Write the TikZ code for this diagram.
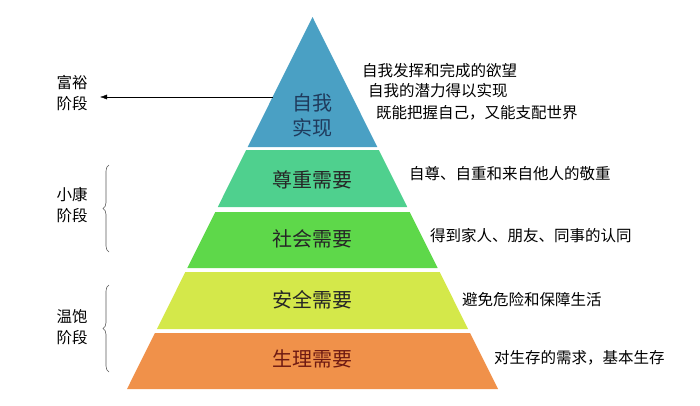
\documentclass[tikz,border=0pt]{standalone}
\usepackage{fontspec}
\setmainfont{Noto Sans CJK SC}
\usetikzlibrary{calc,arrows.meta,decorations.pathreplacing}
\definecolor{selfc}{HTML}{4AA0C4}
\definecolor{esteemc}{HTML}{4FD08E}
\definecolor{socialc}{HTML}{5ED84A}
\definecolor{safec}{HTML}{D4E84A}
\definecolor{bodyc}{HTML}{F0914A}
\definecolor{selft}{HTML}{1F3A5C}
\definecolor{bodyt}{HTML}{6E1A12}
\begin{document}
\begin{tikzpicture}[x=1pt,y=-1pt,
    level/.style={align=center,font=\fontsize{20}{25}\selectfont,text=black!85},
    note/.style={anchor=west,inner sep=0pt,font=\fontsize{15.5}{18}\selectfont},
    stage/.style={align=center,font=\fontsize{15.5}{21}\selectfont},
    bracket/.style={decorate,decoration={brace,amplitude=6pt},black!65,semithick}]
    \useasboundingbox (0,0) rectangle (700,405);
    % pyramid
    \coordinate (apex) at (312.5,17);
    \coordinate (bl) at (127,389);
    \coordinate (br) at (498,389);
    \fill[selfc] (apex) -- ($(apex)!{130/372}!(bl)$) -- ($(apex)!{130/372}!(br)$) -- cycle;
    \foreach \ya/\yb/\col in {150/207/esteemc,212/268/socialc,272/329/safec,333/389/bodyc}
        \fill[\col] ($(apex)!{(\ya-17)/372}!(bl)$) -- ($(apex)!{(\yb-17)/372}!(bl)$)
            -- ($(apex)!{(\yb-17)/372}!(br)$) -- ($(apex)!{(\ya-17)/372}!(br)$) -- cycle;
    \node[level,text=selft] (self) at (312.5,115) {自我\\实现};
    \node[level] (esteem) at (312.5,180) {尊重需要};
    \node[level] (social) at (312.5,239) {社会需要};
    \node[level] (safe) at (312.5,300) {安全需要};
    \node[level,text=bodyt] (body) at (312.5,359) {生理需要};
    % notes
    \node[note] (n1) at (362,71) {自我发挥和完成的欲望};
    \node[note] (n2) at (368,91) {自我的潜力得以实现};
    \node[note] (n3) at (376,113) {既能把握自己，又能支配世界};
    \node[note] (n4) at (409,174) {自尊、自重和来自他人的敬重};
    \node[note] (n5) at (430,236) {得到家人、朋友、同事的认同};
    \node[note] (n6) at (462,300) {避免危险和保障生活};
    \node[note] (n7) at (494,358) {对生存的需求，基本生存};
    % stages
    \node[stage] (rich) at (72,93) {富裕\\阶段};
    \node[stage] (comfort) at (72,205) {小康\\阶段};
    \node[stage] (warm) at (72,327) {温饱\\阶段};
    \coordinate (edge) at ($(apex)!{80/372}!(bl)$);
    \draw[-{Latex[length=7pt,width=5pt]},shorten >=9pt] (edge) -- (edge -| rich.east);
    \draw[bracket] (109,252) -- (109,165);
    \draw[bracket] (109,372) -- (109,285);
\end{tikzpicture}
\end{document}
